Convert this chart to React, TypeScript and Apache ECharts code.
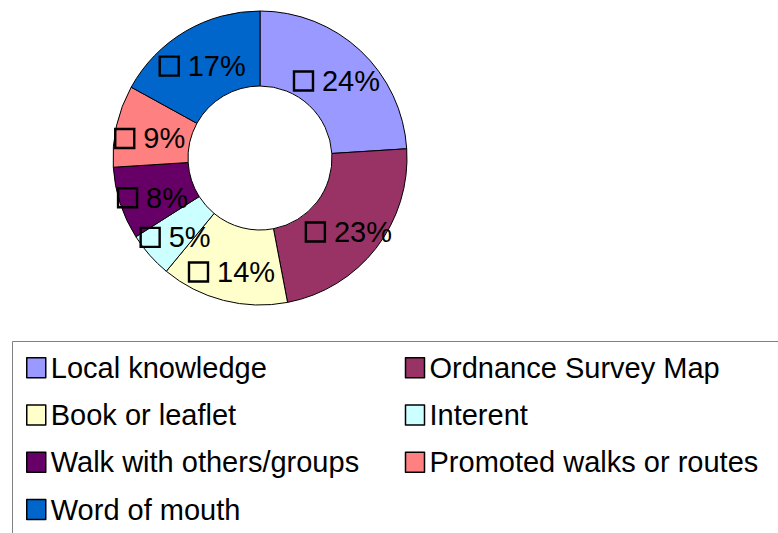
import React, { useEffect, useRef } from "react";
import * as echarts from "echarts";

const categories = [
  "Local knowledge",
  "Ordnance Survey Map",
  "Book or leaflet",
  "Interent",
  "Walk with others/groups",
  "Promoted walks or routes",
  "Word of mouth",
];
const values = [24, 23, 14, 5, 8, 9, 17];
const colors = ["#9999FF", "#993366", "#FFFFCC", "#CCFFFF", "#660066", "#FF8080", "#0066CC"];

const FONT = "'Liberation Sans', Arial, sans-serif";

export default function App() {
  const ref = useRef<HTMLDivElement>(null);
  useEffect(() => {
    if (!ref.current) return;
    const chart = echarts.init(ref.current, undefined, { renderer: "svg" });
    chart.setOption({
      animation: false,
      backgroundColor: "#fff",
      graphic: [
        {
          type: "rect",
          shape: { x: 12.5, y: 341.5, width: 800, height: 220 },
          style: { fill: "none", stroke: "#808080", lineWidth: 1 },
          silent: true,
        },
      ],
      legend: {
        data: categories,
        left: 21,
        top: 341,
        width: 770,
        orient: "horizontal",
        icon: "rect",
        itemWidth: 19,
        itemHeight: 20,
        itemGap: 4,
        itemStyle: { borderColor: "#000", borderWidth: 1.5 },
        textStyle: {
          fontSize: 29,
          fontFamily: FONT,
          color: "#000",
          width: 350,
          lineHeight: 43.3,
        },
      },
      series: [
        {
          type: "pie",
          center: [260, 158],
          radius: [72, 147],
          startAngle: 90,
          clockwise: true,
          avoidLabelOverlap: false,
          itemStyle: { borderColor: "#000", borderWidth: 1 },
          label: {
            show: true,
            position: "inside",
            offset: [0, 5],
            formatter: (p: any) => `{box|}{pct|${p.value}%}`,
            rich: {
              box: {
                width: 19,
                height: 19,
                borderColor: "#000",
                borderWidth: 1.2,
                backgroundColor: "transparent",
              },
              pct: {
                fontSize: 29,
                fontFamily: FONT,
                color: "#000",
                padding: [0, 0, 0, 9],
              },
            },
          },
          labelLine: { show: false },
          emphasis: { disabled: true },
          data: categories.map((name, i) => ({
            name,
            value: values[i],
            itemStyle: { color: colors[i] },
          })),
        },
      ],
    });
    return () => chart.dispose();
  }, []);
  return (
    <div
      ref={ref}
      style={{ position: "absolute", left: 0, top: 0, width: 778, height: 533 }}
    />
  );
}
